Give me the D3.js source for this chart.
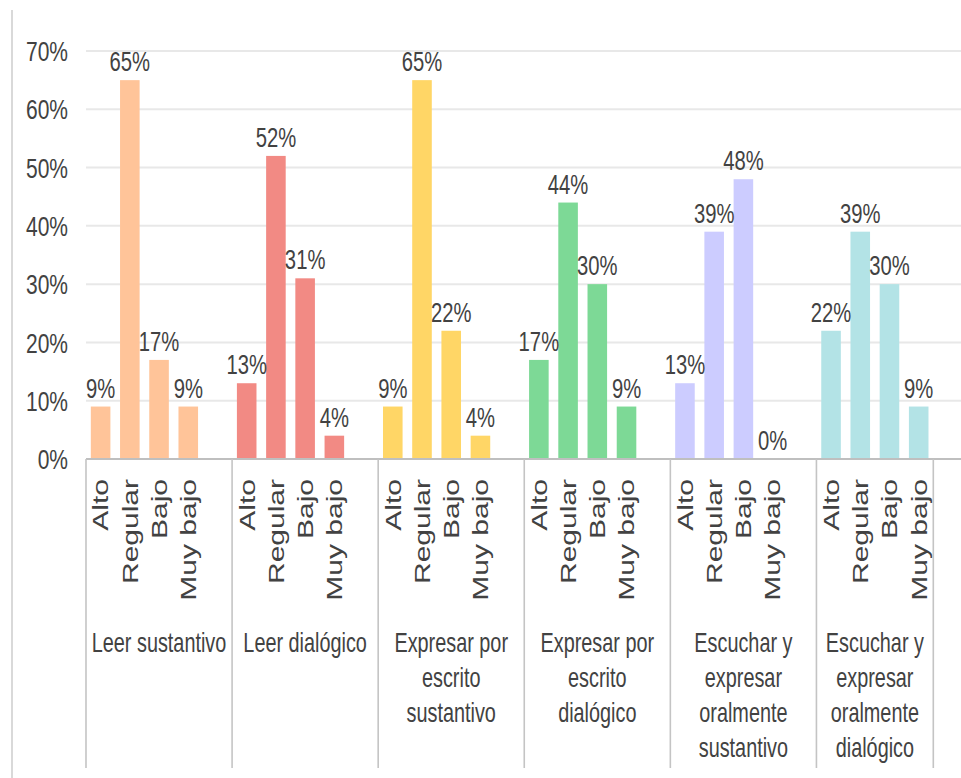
<!DOCTYPE html>
<html>
<head>
<meta charset="utf-8">
<script src="https://cdn.jsdelivr.net/npm/d3@7"></script>
<style>
  html, body { margin: 0; padding: 0; background: #ffffff; }
  svg { display: block; }
  text { font-family: "Liberation Sans", Arial, sans-serif; }
</style>
</head>
<body>
<svg id="chart" width="961" height="778"></svg>
<script>
// ---- data ----
const categories = [
  "Leer sustantivo",
  "Leer dialógico",
  "Expresar por\nescrito\nsustantivo",
  "Expresar por\nescrito\ndialógico",
  "Escuchar y\nexpresar\noralmente\nsustantivo",
  "Escuchar y\nexpresar\noralmente\ndialógico"
];
const levels = ["Alto", "Regular", "Bajo", "Muy bajo"];
const leerSustantivo      = [0.09, 0.65, 0.17, 0.09];
const leerDialogico       = [0.13, 0.52, 0.31, 0.04];
const expresarSustantivo  = [0.09, 0.65, 0.22, 0.04];
const expresarDialogico   = [0.17, 0.44, 0.30, 0.09];
const escucharSustantivo  = [0.13, 0.39, 0.48, 0.00];
const escucharDialogico   = [0.22, 0.39, 0.30, 0.09];
const seriesValues = [leerSustantivo, leerDialogico, expresarSustantivo,
                      expresarDialogico, escucharSustantivo, escucharDialogico];
const yTicks = [0, 0.1, 0.2, 0.3, 0.4, 0.5, 0.6, 0.7];
const groupColors = ["#FFC499", "#F28A84", "#FFD666", "#7DD996", "#CCCCFF", "#B3E3E6"];

// ---- layout ----
const W = 961, H = 778;
const plotLeft = 86, plotRight = 933.3, baseY = 459, topY = 51;
const sx = 0.75;           // horizontal text compression of the original picture
const textColor = "#424242";

// slots: 4 bars per group + one empty spacer between groups
const slots = [];
categories.forEach((c, g) => {
  levels.forEach((l, i) => slots.push({key: g + "|" + i, g, i, level: l, value: seriesValues[g][i]}));
  if (g < categories.length - 1) slots.push({key: g + "|gap", g, spacer: true});
});

const x = d3.scaleBand()
  .domain(slots.map(d => d.key))
  .range([plotLeft, plotRight])
  .paddingInner(0.33)
  .paddingOuter(0.165);
const y = d3.scaleLinear().domain([0, 0.7]).range([baseY, topY]);
const pct = d3.format(".0%");

const svg = d3.select("#chart");
svg.append("rect").attr("width", W).attr("height", H).attr("fill", "#fff");

// left border line
svg.append("line").attr("x1", 12).attr("x2", 12).attr("y1", 10).attr("y2", H)
  .attr("stroke", "#d9d9d9").attr("stroke-width", 2);

// gridlines
svg.append("g").selectAll("line").data(yTicks.filter(t => t > 0)).join("line")
  .attr("x1", plotLeft).attr("x2", W)
  .attr("y1", d => y(d)).attr("y2", d => y(d))
  .attr("stroke", "#e8e8e8").attr("stroke-width", 2);

// y tick labels
svg.append("g").selectAll("text").data(yTicks).join("text")
  .attr("transform", d => `translate(68,${y(d)}) scale(${sx},1)`)
  .attr("text-anchor", "end").attr("dy", "0.36em")
  .attr("font-size", 28).attr("fill", textColor)
  .text(d => pct(d));

// bars
const bars = slots.filter(d => !d.spacer);
svg.append("g").selectAll("rect").data(bars).join("rect")
  .attr("x", d => x(d.key)).attr("width", x.bandwidth())
  .attr("y", d => y(d.value)).attr("height", d => baseY - y(d.value))
  .attr("fill", d => groupColors[d.g]);

// value labels
svg.append("g").selectAll("text").data(bars).join("text")
  .attr("transform", d => `translate(${x(d.key) + x.bandwidth() / 2},${y(d.value) - 9}) scale(${sx},1)`)
  .attr("text-anchor", "middle")
  .attr("font-size", 27).attr("fill", textColor)
  .text(d => pct(d.value));

// baseline
svg.append("line").attr("x1", plotLeft).attr("x2", W).attr("y1", baseY).attr("y2", baseY)
  .attr("stroke", "#bfbfbf").attr("stroke-width", 2);

// group separators
const step = x.step(), half = (step - x.bandwidth()) / 2;
const groupStart = g => x(g + "|0") - half;
const groupEnd = g => x(g + "|3") + x.bandwidth() + half + (g < categories.length - 1 ? step : 0);
const sepXs = categories.map((c, g) => groupStart(g)).concat([groupEnd(categories.length - 1)]);
svg.append("g").selectAll("line").data(sepXs).join("line")
  .attr("x1", d => d).attr("x2", d => d).attr("y1", baseY).attr("y2", 768)
  .attr("stroke", "#c4c4c4").attr("stroke-width", 1.6);

// rotated level labels
svg.append("g").selectAll("text").data(bars).join("text")
  .attr("transform", d => `translate(${x(d.key) + x.bandwidth() / 2},479) scale(${sx},1) rotate(-90)`)
  .attr("text-anchor", "end").attr("dy", "0.35em")
  .attr("font-size", 30).attr("fill", textColor)
  .text(d => d.level);

// category labels
const catG = svg.append("g").selectAll("text").data(categories).join("text")
  .attr("transform", (d, g) => `translate(${(groupStart(g) + groupEnd(g)) / 2},652) scale(${sx * 0.98},1)`)
  .attr("text-anchor", "middle")
  .attr("font-size", 27).attr("fill", textColor);
catG.selectAll("tspan").data(d => d.split("\n")).join("tspan")
  .attr("x", 0).attr("y", (d, i) => i * 35)
  .text(d => d);
</script>
</body>
</html>
